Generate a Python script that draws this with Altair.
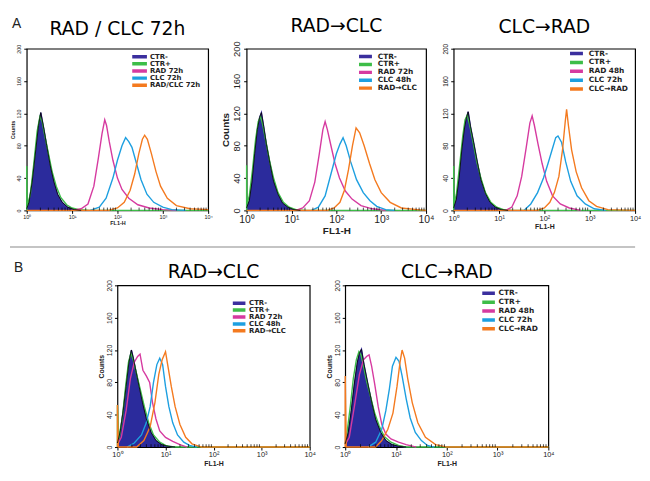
import altair as alt
import pandas as pd

# ---------------- text content ----------------
ROW_LETTERS = ["A", "B"]
PANEL_IDS = ["A1", "A2", "A3", "B1", "B2"]
PANEL_TITLES = ["RAD / CLC 72h", "RAD→CLC", "CLC→RAD", "RAD→CLC", "CLC→RAD"]
LEGEND_LABELS = [
    ["CTR-", " CTR+", "RAD 72h", "CLC 72h", "RAD/CLC 72h"],
    ["CTR-", " CTR+", "RAD 72h", "CLC 48h", "RAD→CLC"],
    ["CTR-", " CTR+", "RAD 48h", "CLC 72h", "CLC→RAD"],
    ["CTR-", " CTR+", "RAD 72h", "CLC 48h", "RAD→CLC"],
    ["CTR-", " CTR+", "RAD 48h", "CLC 72h", "CLC→RAD"],
]
SERIES_COLORS = ["#3b2f9e", "#3dbd48", "#d63aa0", "#1d9fe0", "#f47a1f"]
NAVY_FILL = "#2b2b9c"
Y_TICKS = [0, 40, 80, 120, 160, 200]
X_TICKS = [1, 10, 100, 1000, 10000]
X_TITLE = "FL1-H"
Y_TITLE = "Counts"

# ---------------- histogram outlines (x in log10 decades of FL1-H, y in counts) ----------------
# Panel A1  RAD / CLC 72h
A1_CTRN_DEC = [0, 0.05, 0.12, 0.2, 0.26, 0.31, 0.34, 0.38, 0.44, 0.52, 0.6, 0.68, 0.78, 0.9, 1.05, 1.2]
A1_CTRN_CNT = [2, 10, 35, 75, 105, 121, 112, 100, 80, 55, 35, 20, 10, 4, 1, 0]
A1_CTRP_DEC = [0, 0, 0.01, 0.08, 0.16, 0.23, 0.29, 0.34, 0.4, 0.48, 0.56, 0.65, 0.75, 0.88, 1.0, 1.15, 1.4, 4.0]
A1_CTRP_CNT = [0, 55, 5, 20, 60, 98, 116, 110, 92, 70, 48, 30, 16, 7, 3, 1, 0, 0]
A1_RAD_DEC = [1.0, 1.2, 1.35, 1.48, 1.58, 1.66, 1.72, 1.76, 1.82, 1.9, 2.0, 2.1, 2.25, 2.45, 2.7, 3.0, 3.3]
A1_RAD_CNT = [0, 2, 8, 30, 65, 95, 112, 105, 85, 62, 40, 26, 15, 7, 3, 1, 0]
A1_CLC_DEC = [1.4, 1.6, 1.75, 1.9, 2.0, 2.1, 2.18, 2.25, 2.32, 2.42, 2.52, 2.65, 2.8, 3.0, 3.2, 3.5]
A1_CLC_CNT = [0, 4, 15, 40, 62, 80, 90, 85, 78, 58, 38, 20, 10, 4, 1, 0]
A1_CMB_DEC = [0, 1.8, 2.0, 2.15, 2.28, 2.38, 2.47, 2.55, 2.6, 2.66, 2.75, 2.85, 2.95, 3.1, 3.3, 3.6, 4.0]
A1_CMB_CNT = [0, 0, 3, 10, 25, 45, 70, 88, 93, 88, 70, 48, 30, 15, 6, 2, 1]

# Panel A2  RAD→CLC
A2_CTRN_DEC = [0, 0.06, 0.12, 0.18, 0.24, 0.29, 0.33, 0.38, 0.44, 0.52, 0.6, 0.7, 0.8, 0.92, 1.05, 1.2]
A2_CTRN_CNT = [3, 12, 35, 70, 100, 115, 121, 104, 82, 58, 36, 20, 9, 4, 1, 0]
A2_CTRP_DEC = [0, 0, 0.01, 0.06, 0.13, 0.2, 0.26, 0.31, 0.36, 0.43, 0.51, 0.6, 0.7, 0.82, 0.95, 1.1, 1.3, 4.0]
A2_CTRP_CNT = [0, 56, 8, 18, 50, 88, 110, 116, 106, 85, 62, 40, 22, 10, 4, 1, 0, 0]
A2_RAD_DEC = [1.1, 1.25, 1.4, 1.52, 1.62, 1.7, 1.75, 1.8, 1.88, 1.97, 2.07, 2.2, 2.35, 2.55, 2.8, 3.1]
A2_RAD_CNT = [0, 3, 12, 35, 70, 100, 110, 100, 80, 58, 40, 24, 14, 6, 2, 0]
A2_CLC_DEC = [1.45, 1.6, 1.75, 1.88, 2.0, 2.08, 2.15, 2.22, 2.32, 2.45, 2.6, 2.75, 2.9, 3.1, 3.3]
A2_CLC_CNT = [0, 4, 18, 45, 70, 82, 90, 80, 60, 38, 22, 12, 5, 1, 0]
A2_CMB_DEC = [0, 1.8, 1.95, 2.08, 2.18, 2.27, 2.36, 2.44, 2.52, 2.62, 2.74, 2.86, 3.0, 3.2, 3.45, 3.8, 4.0]
A2_CMB_CNT = [0, 0, 3, 10, 25, 50, 80, 102, 96, 80, 58, 38, 22, 10, 3, 1, 0]

# Panel A3  CLC→RAD
A3_CTRN_DEC = [0, 0.06, 0.12, 0.18, 0.24, 0.28, 0.32, 0.37, 0.44, 0.52, 0.6, 0.7, 0.8, 0.92, 1.05, 1.2]
A3_CTRN_CNT = [3, 14, 40, 75, 102, 114, 122, 104, 84, 60, 38, 21, 10, 4, 1, 0]
A3_CTRP_DEC = [0, 0, 0.01, 0.06, 0.13, 0.2, 0.25, 0.3, 0.36, 0.43, 0.51, 0.6, 0.7, 0.82, 0.95, 1.1, 1.3, 4.0]
A3_CTRP_CNT = [0, 55, 8, 20, 55, 92, 112, 118, 104, 84, 60, 40, 22, 10, 4, 1, 0, 0]
A3_RAD_DEC = [1.15, 1.28, 1.4, 1.5, 1.6, 1.68, 1.73, 1.78, 1.86, 1.95, 2.05, 2.18, 2.35, 2.55, 2.8]
A3_RAD_CNT = [0, 4, 18, 42, 78, 108, 117, 105, 82, 58, 36, 18, 8, 3, 0]
A3_CLC_DEC = [1.55, 1.7, 1.85, 1.98, 2.08, 2.17, 2.25, 2.3, 2.38, 2.47, 2.58, 2.72, 2.9, 3.1, 3.35]
A3_CLC_CNT = [0, 8, 22, 40, 58, 75, 90, 92, 84, 60, 36, 18, 8, 2, 0]
A3_CMB_DEC = [0, 1.85, 2.0, 2.12, 2.22, 2.32, 2.4, 2.46, 2.49, 2.53, 2.6, 2.7, 2.82, 2.98, 3.15, 3.4, 4.0]
A3_CMB_CNT = [0, 0, 3, 10, 22, 42, 75, 110, 125, 105, 75, 48, 28, 12, 5, 1, 0]

# Panel B1  RAD→CLC
B1_CTRN_DEC = [0, 0.06, 0.12, 0.18, 0.24, 0.29, 0.33, 0.38, 0.45, 0.52, 0.6, 0.7, 0.8, 0.92, 1.05, 1.2]
B1_CTRN_CNT = [5, 20, 45, 75, 105, 120, 110, 95, 75, 55, 35, 18, 8, 3, 1, 0]
B1_CTRP_DEC = [0, 0, 0.03, 0.1, 0.17, 0.23, 0.28, 0.33, 0.4, 0.48, 0.56, 0.65, 0.75, 0.88, 1.0, 1.15, 4.0]
B1_CTRP_CNT = [0, 52, 10, 35, 75, 105, 116, 108, 90, 70, 50, 30, 15, 6, 2, 0, 0]
B1_RAD_DEC = [0, 0.08, 0.18, 0.27, 0.35, 0.42, 0.47, 0.53, 0.6, 0.67, 0.73, 0.8, 0.88, 1.0, 1.15, 1.3, 1.45]
B1_RAD_CNT = [3, 12, 45, 85, 105, 112, 115, 95, 88, 80, 55, 35, 20, 12, 7, 3, 0]
B1_CLC_DEC = [0.2, 0.35, 0.5, 0.6, 0.68, 0.75, 0.82, 0.88, 0.94, 1.0, 1.07, 1.15, 1.25, 1.38, 1.5, 1.65]
B1_CLC_CNT = [0, 5, 15, 30, 50, 80, 102, 110, 102, 75, 50, 30, 15, 6, 2, 0]
B1_CMB_DEC = [0, 0, 0.02, 0.4, 0.55, 0.68, 0.78, 0.86, 0.93, 1.0, 1.05, 1.12, 1.2, 1.3, 1.42, 1.55, 1.75, 4.0]
B1_CMB_CNT = [0, 52, 0, 0, 8, 25, 55, 90, 108, 118, 100, 75, 50, 28, 12, 4, 0, 0]

# Panel B2  CLC→RAD
B2_CTRN_DEC = [0, 0.06, 0.12, 0.18, 0.24, 0.28, 0.32, 0.37, 0.44, 0.52, 0.6, 0.7, 0.8, 0.92, 1.05, 1.2]
B2_CTRN_CNT = [4, 18, 45, 78, 105, 116, 121, 102, 80, 56, 34, 18, 8, 3, 1, 0]
B2_CTRP_DEC = [0, 0.04, 0.1, 0.16, 0.22, 0.27, 0.31, 0.36, 0.42, 0.5, 0.58, 0.67, 0.77, 0.9, 1.05, 1.2, 4.0]
B2_CTRP_CNT = [4, 20, 50, 85, 108, 118, 114, 100, 82, 62, 42, 26, 13, 6, 2, 0, 0]
B2_RAD_DEC = [0, 0.08, 0.18, 0.28, 0.36, 0.42, 0.47, 0.52, 0.58, 0.65, 0.72, 0.8, 0.9, 1.05, 1.2, 1.4]
B2_RAD_CNT = [3, 12, 50, 90, 108, 112, 114, 100, 78, 50, 28, 16, 10, 6, 3, 0]
B2_CLC_DEC = [0.45, 0.6, 0.72, 0.8, 0.87, 0.93, 1.0, 1.06, 1.12, 1.2, 1.28, 1.38, 1.5, 1.62, 1.75]
B2_CLC_CNT = [0, 6, 22, 45, 72, 100, 111, 106, 88, 60, 36, 18, 8, 2, 0]
B2_CMB_DEC = [0, 0, 0.02, 0.6, 0.72, 0.84, 0.94, 1.02, 1.08, 1.12, 1.17, 1.23, 1.32, 1.43, 1.58, 1.78, 2.0, 4.0]
B2_CMB_CNT = [0, 88, 0, 0, 8, 22, 42, 75, 105, 120, 110, 85, 55, 30, 12, 3, 0, 0]

CURVES = {
    "A1": [(A1_CTRN_DEC, A1_CTRN_CNT), (A1_CTRP_DEC, A1_CTRP_CNT), (A1_RAD_DEC, A1_RAD_CNT), (A1_CLC_DEC, A1_CLC_CNT), (A1_CMB_DEC, A1_CMB_CNT)],
    "A2": [(A2_CTRN_DEC, A2_CTRN_CNT), (A2_CTRP_DEC, A2_CTRP_CNT), (A2_RAD_DEC, A2_RAD_CNT), (A2_CLC_DEC, A2_CLC_CNT), (A2_CMB_DEC, A2_CMB_CNT)],
    "A3": [(A3_CTRN_DEC, A3_CTRN_CNT), (A3_CTRP_DEC, A3_CTRP_CNT), (A3_RAD_DEC, A3_RAD_CNT), (A3_CLC_DEC, A3_CLC_CNT), (A3_CMB_DEC, A3_CMB_CNT)],
    "B1": [(B1_CTRN_DEC, B1_CTRN_CNT), (B1_CTRP_DEC, B1_CTRP_CNT), (B1_RAD_DEC, B1_RAD_CNT), (B1_CLC_DEC, B1_CLC_CNT), (B1_CMB_DEC, B1_CMB_CNT)],
    "B2": [(B2_CTRN_DEC, B2_CTRN_CNT), (B2_CTRP_DEC, B2_CTRP_CNT), (B2_RAD_DEC, B2_RAD_CNT), (B2_CLC_DEC, B2_CLC_CNT), (B2_CMB_DEC, B2_CMB_CNT)],
}

rows = []
for p, pid in enumerate(PANEL_IDS):
    for k, (dec, cnt) in enumerate(CURVES[pid]):
        for i, (dv, cv) in enumerate(zip(dec, cnt)):
            rows.append({"panel": pid, "k": k, "label": LEGEND_LABELS[p][k], "i": i,
                         "x": 10 ** dv, "y": cv})
df = pd.DataFrame(rows)

minor = [m * 10 ** e for e in range(4) for m in range(2, 10)]
minor_df = pd.DataFrame({"x": minor, "y": [0] * len(minor), "y2": [3.5] * len(minor)})

AXFONT = "Liberation Sans"
LEGFONT = "DejaVu Sans"
TFONT = "DejaVu Sans"

# per-panel styling (sizes in px)
STYLE = {
    "A1": dict(w=184, h=164, xl=5.5, xt=5.5, yl=5.5, yt=5.5, ytitle=True, lx=107, ly=4.6, lo=8, half=3.3, lf=7, ch=7, rp=-0.75, toff=-22),
    "A2": dict(w=182, h=164, xl=10.5, xt=10, yl=9.5, yt=10, ytitle=True, lx=114, ly=4.4, lo=9, half=2.7, lf=7.5, ch=7.2, rp=-1.5, toff=5),
    "A3": dict(w=184, h=164, xl=7.5, xt=7, yl=6.5, yt=7, ytitle=False, lx=118, ly=0.6, lo=9, half=2.7, lf=7.5, ch=8.7, rp=0, toff=7),
    "B1": dict(w=195, h=164, xl=7.5, xt=7, yl=7, yt=7, ytitle=True, lx=117, ly=14.6, lo=6.5, half=2.6, lf=7, ch=7, rp=-1.2, toff=-2),
    "B2": dict(w=206, h=164, xl=7.5, xt=7, yl=7, yt=7, ytitle=True, lx=139, ly=3.8, lo=6.5, half=2.6, lf=7.5, ch=8.5, rp=-0.25, toff=-2),
}

LABEL_EXPR = "'10' + ['⁰','¹','²','³','⁴'][round(log(datum.value)/LN10)]"


def make_panel(p):
    pid = PANEL_IDS[p]
    st = STYLE[pid]
    d = df[df.panel == pid]
    xs = alt.Scale(type="log", domain=[1, 10000], nice=False)
    ys = alt.Scale(domain=[0, 200], nice=False)
    xax = alt.Axis(values=X_TICKS, labelExpr=LABEL_EXPR, title=X_TITLE,
                   labelFontSize=st["xl"], titleFontSize=st["xt"], titleFontWeight="bold",
                   labelFont=AXFONT, titleFont=AXFONT, labelColor="#222", titleColor="#222",
                   tickSize=3, tickColor="black", labelPadding=1, titlePadding=1,
                   domain=False, grid=False, labelFlush=False)
    yax_kw = dict(values=Y_TICKS, labelAngle=-90, labelAlign="center", labelBaseline="bottom",
                  labelFontSize=st["yl"], labelFont=AXFONT, labelColor="#222",
                  tickSize=3, tickColor="black", labelPadding=2, titlePadding=1,
                  domain=False, grid=False, titleFontWeight="bold", titleFont=AXFONT,
                  titleFontSize=st["yt"], titleColor="#222")
    yax = alt.Axis(title=Y_TITLE if st["ytitle"] else None, **yax_kw)
    X = alt.X("x:Q", scale=xs, axis=xax)
    Y = alt.Y("y:Q", scale=ys, axis=yax)

    leg = alt.Legend(title=None, orient="none", legendX=st["lx"], legendY=st["ly"], padding=0,
                     symbolType=f"M-{st['half']},0L{st['half']},0", symbolSize=36,
                     symbolStrokeWidth=3.5, labelFontSize=st["lf"], labelFont=LEGFONT,
                     labelFontWeight="bold", labelColor="#222", labelOffset=st["lo"],
                     rowPadding=st["rp"], clipHeight=st["ch"], labelLimit=0)

    area = alt.Chart(d).transform_filter("datum.k == 0").mark_area(
        color=NAVY_FILL, opacity=1).encode(x=X, y=Y)
    lines = alt.Chart(d).mark_line(strokeWidth=1.4).encode(
        x=X, y=Y,
        color=alt.Color("label:N", scale=alt.Scale(domain=LEGEND_LABELS[p], range=SERIES_COLORS), legend=leg),
        order=alt.Order("i:Q"))
    outline = alt.Chart(d).transform_filter("datum.k == 0").mark_line(
        color="black", strokeWidth=0.8).encode(x=X, y=Y, order=alt.Order("i:Q"))
    ticks = alt.Chart(minor_df).mark_rule(color="black", strokeWidth=0.7).encode(
        x=X, y=Y, y2="y2:Q")
    layers = [area, lines, outline, ticks]
    if pid == "A1":
        lt = alt.Chart(pd.DataFrame({"t": [ROW_LETTERS[0]]})).mark_text(
            font=AXFONT, fontSize=14, align="left", baseline="middle", color="#222").encode(
            text="t:N", x=alt.value(-15), y=alt.value(-25))
        layers.append(lt)
    return alt.layer(*layers).properties(
        width=st["w"], height=st["h"],
        title=alt.TitleParams(text=PANEL_TITLES[p], font=TFONT, fontSize=19, frame="group",
                              fontWeight="normal", color="black", offset=st["toff"]))


# row-B letter (and the grey divider between the two figure parts) as its own empty view
letter_txt = alt.Chart(pd.DataFrame({"t": [ROW_LETTERS[1]]})).mark_text(
    font=AXFONT, fontSize=14, align="left", baseline="middle", color="#222").encode(
    text="t:N", x=alt.value(-13), y=alt.value(-18))
divider = alt.Chart(pd.DataFrame({"t": [ROW_LETTERS[1]]})).mark_rule(
    color="#b0b0b0", strokeWidth=1.5).encode(
    x=alt.value(-17), x2=alt.value(617), y=alt.value(-39))
letter_b = alt.layer(divider, letter_txt).properties(
    width=56, height=164, view=alt.ViewConfig(stroke="transparent"))

rowA = alt.hconcat(make_panel(0), make_panel(1), make_panel(2), spacing=7
                   ).resolve_scale(color="independent")
rowB = alt.hconcat(letter_b, make_panel(3), make_panel(4), spacing=36, bounds="flush"
                   ).resolve_scale(color="independent")
chart = alt.vconcat(rowA, rowB, spacing=8
                    ).resolve_scale(color="independent").properties(
    padding={"left": 0, "top": 5, "right": 0, "bottom": 0}
).configure_view(stroke="black", strokeWidth=1.2)

chart.save("out.html", embed_options={"renderer": "svg", "actions": False})
